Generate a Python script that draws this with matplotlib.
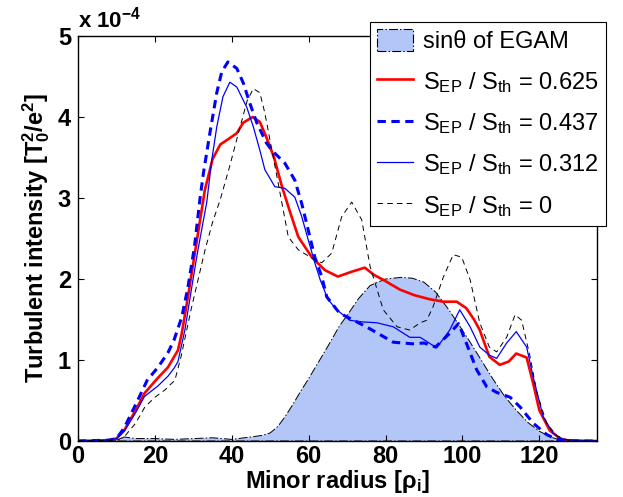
import matplotlib
matplotlib.use("Agg")
import matplotlib.pyplot as plt
from matplotlib.patches import Patch

plt.rcParams['font.family'] = ['Liberation Sans', 'DejaVu Sans']
plt.rcParams['mathtext.default'] = 'regular'
plt.rcParams['lines.scale_dashes'] = False

# values in units of 1e-4
x_egam = [0, 10, 12, 15, 20, 25, 30, 35, 40, 45, 48, 50, 52, 54, 56, 58, 60, 62, 65, 68, 70,
          73, 76, 80, 84, 87, 90, 93, 96, 99, 102, 105, 108, 111, 114, 117, 120, 123, 126, 135]
y_egam = [0, 0, 0.05, 0.03, 0.03, 0.02, 0.03, 0.04, 0.02, 0.05, 0.07, 0.10, 0.18, 0.31, 0.46,
          0.62, 0.77, 0.93, 1.17, 1.42, 1.55, 1.76, 1.92, 2.00, 2.02, 2.01, 1.96, 1.84, 1.65,
          1.44, 1.22, 0.99, 0.76, 0.55, 0.38, 0.23, 0.12, 0.05, 0, 0]

x_625 = [0, 8, 10, 12, 15, 17.3, 20.8, 23.4, 25, 26, 27, 28.6, 30, 31.5, 33, 35, 37, 39.5,
         41.3, 43, 45.4, 47.3, 49, 51, 53, 55, 57.3, 60.8, 64.2, 67.6, 71.2, 74.6, 77, 79.4,
         83.7, 87.5, 91.5, 95, 98.5, 101, 103, 104.5, 107, 109.7, 112, 114, 116.7, 118.4,
         120, 122.7, 125.4, 128, 135]
y_625 = [0, 0.01, 0.03, 0.13, 0.38, 0.59, 0.78, 0.91, 1.04, 1.12, 1.33, 1.78, 2.2, 2.65, 3.1,
         3.48, 3.66, 3.74, 3.8, 3.93, 4.0, 3.94, 3.75, 3.5, 3.15, 2.85, 2.52, 2.27, 2.11, 2.03,
         2.09, 2.14, 2.05, 1.99, 1.87, 1.8, 1.75, 1.72, 1.72, 1.64, 1.5, 1.37, 1.04, 0.94,
         0.98, 1.08, 1.03, 0.71, 0.38, 0.13, 0.03, 0, 0]

x_437 = [0, 8, 10, 12, 15, 18, 20.8, 23.4, 25, 27, 28.6, 30.3, 31.7, 32.6, 34.3, 36.1, 37.4,
         39, 41.3, 43, 44.7, 46.5, 49, 50.4, 53.8, 56.4, 58.2, 59.9, 61.6, 63.4, 64.7, 68, 75,
         82, 87, 90, 93, 96.7, 99, 101, 103.7, 106.3, 108.9, 112.4, 115, 118.4, 121.9, 124.5,
         128, 135]
y_437 = [0, 0.01, 0.03, 0.16, 0.45, 0.75, 0.91, 1.09, 1.25, 1.53, 1.9, 2.4, 2.98, 3.3, 3.8,
         4.3, 4.56, 4.68, 4.6, 4.42, 4.17, 3.93, 3.68, 3.59, 3.43, 3.22, 2.93, 2.6, 2.27, 2.03,
         1.78, 1.58, 1.41, 1.22, 1.2, 1.21, 1.16, 1.33, 1.45, 1.21, 0.88, 0.67, 0.6, 0.54,
         0.42, 0.22, 0.08, 0.02, 0, 0]

x_312 = [0, 8, 10, 12, 15, 17.3, 20.8, 23.4, 25, 26, 27.8, 29.9, 31.2, 33.5, 34.8, 36.1, 37.7,
         39.5, 41.3, 43.9, 45.6, 47.3, 48.6, 51.2, 53.8, 56.4, 58.2, 59.9, 61.6, 63, 65, 67.3,
         70.7, 74, 77.7, 82, 86.3, 89, 91, 93.3, 96.7, 99.3, 102, 104.5, 107, 108.9, 111.5,
         114, 116.7, 118.4, 121, 123.5, 126, 135]
y_312 = [0, 0.01, 0.03, 0.12, 0.35, 0.55, 0.68, 0.8, 0.9, 0.98, 1.37, 1.99, 2.36, 2.95, 3.47,
         3.88, 4.25, 4.43, 4.37, 4.12, 3.88, 3.59, 3.35, 3.14, 3.12, 3.01, 2.77, 2.48, 2.2,
         1.99, 1.75, 1.62, 1.49, 1.47, 1.46, 1.41, 1.28, 1.28, 1.22, 1.15, 1.37, 1.62, 1.41,
         1.16, 1.06, 1.02, 1.21, 1.35, 1.16, 0.79, 0.3, 0.1, 0.02, 0]

x_0 = [0, 10, 12, 15, 17.4, 20, 22.6, 25.2, 26.8, 29.4, 33, 35, 37, 39.5, 42, 44, 45.6, 47.3,
       48.6, 50.4, 52, 54.7, 57.3, 60.8, 63.4, 66, 68.6, 71.2, 73.8, 76, 79.4, 83, 86.3, 89,
       90.7, 92.3, 95, 97.6, 99.8, 102, 104.5, 107, 108.9, 111.5, 113.7, 115.4, 117.6, 119.4,
       121.9, 124.6, 128, 135]
y_0 = [0, 0.01, 0.05, 0.22, 0.42, 0.54, 0.63, 0.75, 1.04, 1.62, 2.35, 2.7, 2.98, 3.4, 3.85,
       4.2, 4.35, 4.3, 4.05, 3.6, 3.2, 2.52, 2.36, 2.26, 2.2, 2.32, 2.77, 2.95, 2.73, 2.15,
       1.62, 1.41, 1.37, 1.46, 1.49, 1.65, 2.02, 2.3, 2.27, 1.99, 1.46, 1.16, 1.1, 1.28, 1.56,
       1.49, 1.04, 0.59, 0.22, 0.06, 0, 0]

labels = ['sin\u03b8 of EGAM',
          'S$_{EP}$ / S$_{th}$ = 0.625',
          'S$_{EP}$ / S$_{th}$ = 0.437',
          'S$_{EP}$ / S$_{th}$ = 0.312',
          'S$_{EP}$ / S$_{th}$ = 0']

fig = plt.figure(figsize=(6.23, 4.97), dpi=100)
ax = fig.add_axes([78/623, 1 - 441/497, (597 - 78)/623, (441 - 36)/497])

fill_col = '#b2c6f8'
ax.fill(x_egam, y_egam, facecolor=fill_col, edgecolor='k', linestyle='-.', linewidth=0.7)
l1, = ax.plot(x_625, y_625, color='#ff0000', lw=1.9)
l2, = ax.plot(x_437, y_437, color='#0000ff', lw=2.2, dashes=(6, 4))
l3, = ax.plot(x_312, y_312, color='#0000ff', lw=0.9)
l4, = ax.plot(x_0, y_0, color='k', lw=0.7, dashes=(4, 3))

ax.set_xlim(0, 135)
ax.set_ylim(0, 5)
ax.set_xticks([0, 20, 40, 60, 80, 100, 120])
ax.set_yticks([0, 1, 2, 3, 4, 5])
ax.tick_params(direction='in', top=True, right=True, length=4.5, width=0.8,
               labelsize=17)
ax.tick_params(axis='x', pad=3)
ax.tick_params(axis='y', pad=5)
for lab in ax.get_xticklabels() + ax.get_yticklabels():
    lab.set_fontweight('bold')
for sp in ax.spines.values():
    sp.set_linewidth(1.0)

ax.set_xlabel(r'Minor radius [$\rho_i$]', fontsize=17, fontweight='bold', labelpad=0)
ax.set_ylabel(r'Turbulent intensity [T$_0^2$/e$^2$]', fontsize=17, fontweight='bold',
              labelpad=4)
ax.text(0, 1.008, r'x 10$^{-4}$', transform=ax.transAxes, fontsize=16,
        fontweight='bold', ha='left', va='bottom')

patch = Patch(facecolor=fill_col, edgecolor='k', linestyle='-.', linewidth=0.8)
leg = ax.legend([patch, l1, l2, l3, l4], labels, loc='upper left',
                bbox_to_anchor=(370/623, 1 - 22/497), bbox_transform=fig.transFigure,
                fontsize=17, frameon=True, fancybox=False, framealpha=1,
                edgecolor='k', borderaxespad=0, borderpad=0.3, handlelength=1.5,
                handleheight=1.05, handletextpad=0.45, labelspacing=0.7)
leg.get_frame().set_linewidth(0.8)
leg.set_zorder(5)

fig.savefig('out.png', dpi=100)
